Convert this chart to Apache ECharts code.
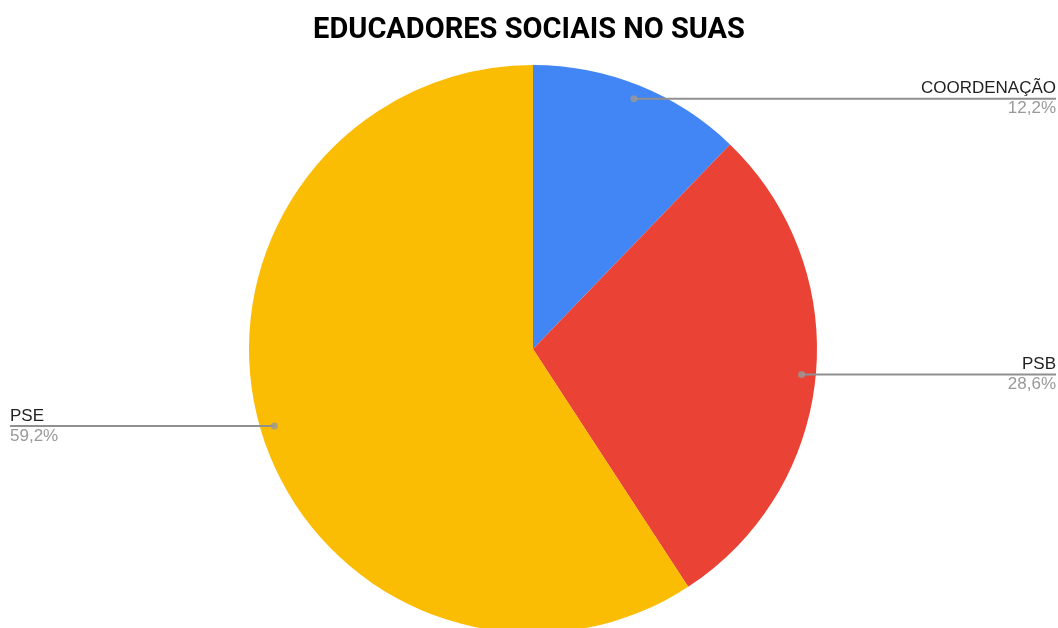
<!DOCTYPE html>
<html>
<head>
<meta charset="utf-8">
<script src="https://cdn.jsdelivr.net/npm/echarts@6/dist/echarts.min.js"></script>
<style>
html,body{margin:0;padding:0;background:#fff;}
#chart{width:1058px;height:628px;}
</style>
</head>
<body>
<div id="chart"></div>
<script>
const title = 'EDUCADORES SOCIAIS NO SUAS';
const categories = ['COORDENAÇÃO', 'PSB', 'PSE'];
const values = [12.2, 28.6, 59.2];
const colors = ['#4285F4', '#EA4335', '#FBBC04'];

const CX = 533, CY = 349, R = 284, DOT_R = 0.95;
const LEFT_EDGE = 10, RIGHT_EDGE = 1056;
const total = values.reduce((a, b) => a + b, 0);
const cumMid = [];
let acc = 0;
values.forEach(v => { cumMid.push(acc + v / 2); acc += v; });

function fmtPct(v) { return v.toFixed(1).replace('.', ',') + '%'; }

const pieData = categories.map((c, i) => ({ name: c, value: values[i], itemStyle: { color: colors[i] } }));

const chart = echarts.init(document.getElementById('chart'));
chart.setOption({
  backgroundColor: '#fff',
  animation: false,
  title: {
    text: title,
    left: 'center',
    top: 11,
    textStyle: { fontFamily: 'Roboto', fontWeight: 'bold', fontSize: 29, color: '#000' }
  },
  polar: { center: [CX, CY], radius: R },
  angleAxis: { type: 'value', min: 0, max: total, startAngle: 90, clockwise: true, show: false },
  radiusAxis: { type: 'value', min: 0, max: 1, show: false },
  series: [
    {
      type: 'pie',
      z: 2,
      center: [CX, CY],
      radius: R,
      startAngle: 90,
      clockwise: true,
      silent: true,
      data: pieData,
      label: { show: false },
      labelLine: { show: false }
    },
    {
      type: 'pie',
      z: 5,
      center: [CX, CY],
      radius: R,
      startAngle: 90,
      clockwise: true,
      silent: true,
      data: categories.map((c, i) => ({ name: c, value: values[i] })),
      itemStyle: { color: 'rgba(0,0,0,0)' },
      label: {
        show: true,
        formatter: p => '{n|' + p.name + '}\n{p|' + fmtPct(p.value) + '}',
        rich: {
          n: { fontFamily: 'Liberation Sans, Arial', fontSize: 17, color: '#222', lineHeight: 20 },
          p: { fontFamily: 'Liberation Sans, Arial', fontSize: 17, color: '#999', lineHeight: 20 }
        }
      },
      labelLine: { show: true, lineStyle: { color: '#909090', width: 2 } },
      labelLayout: function (params) {
        const i = params.dataIndex;
        const frac = cumMid[i] / total;
        const ang = (90 - frac * 360) * Math.PI / 180;
        const dx = CX + DOT_R * R * Math.cos(ang);
        const dy = CY - DOT_R * R * Math.sin(ang);
        const right = Math.cos(ang) > 0;
        const ex = right ? RIGHT_EDGE : LEFT_EDGE;
        return {
          x: ex,
          y: dy,
          align: right ? 'right' : 'left',
          verticalAlign: 'middle',
          labelLinePoints: [[dx, dy], [dx, dy], [ex, dy]]
        };
      }
    },
    {
      type: 'scatter',
      coordinateSystem: 'polar',
      z: 10,
      symbol: 'circle',
      symbolSize: 7,
      itemStyle: { color: '#999' },
      silent: true,
      data: cumMid.map(m => [DOT_R, m])
    }
  ]
});
</script>
</body>
</html>
